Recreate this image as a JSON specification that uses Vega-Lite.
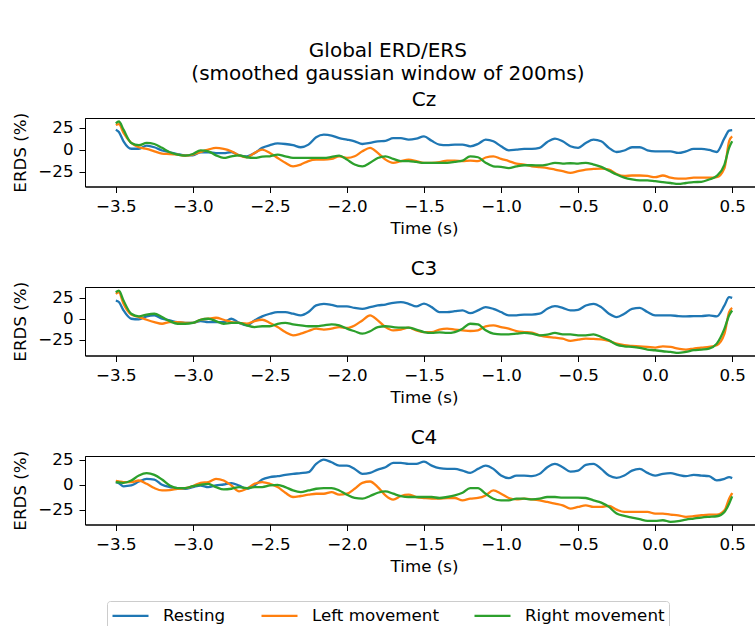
{
"$schema":"https://vega.github.io/schema/vega-lite/v6.json",
"padding":{"left":12,"top":40,"right":5,"bottom":5},
"title":{"text":["Global ERD/ERS","(smoothed gaussian window of 200ms)"],"fontSize":20,"fontWeight":"normal","anchor":"middle","lineHeight":23,"offset":6},
"datasets":{"erds":[
{"p":"Cz","t":-3.5,"Resting":22.7,"Left movement":28,"Right movement":30},
{"p":"Cz","t":-3.48,"Resting":20,"Left movement":29,"Right movement":32},
{"p":"Cz","t":-3.45,"Resting":9.5,"Left movement":19,"Right movement":22.7},
{"p":"Cz","t":-3.4,"Resting":1,"Left movement":7.6,"Right movement":7.6},
{"p":"Cz","t":-3.35,"Resting":1,"Left movement":2.7,"Right movement":5},
{"p":"Cz","t":-3.3,"Resting":4.5,"Left movement":0.8,"Right movement":7.6},
{"p":"Cz","t":-3.25,"Resting":2.7,"Left movement":-1.9,"Right movement":6.4},
{"p":"Cz","t":-3.2,"Resting":-1,"Left movement":-4.5,"Right movement":2},
{"p":"Cz","t":-3.15,"Resting":-3,"Left movement":-5,"Right movement":-3},
{"p":"Cz","t":-3.1,"Resting":-5,"Left movement":-5.7,"Right movement":-5.7},
{"p":"Cz","t":-3.05,"Resting":-6.5,"Left movement":-6.8,"Right movement":-6.8},
{"p":"Cz","t":-3.0,"Resting":-6.5,"Left movement":-5.7,"Right movement":-5},
{"p":"Cz","t":-2.95,"Resting":-3,"Left movement":-2.7,"Right movement":-0.8},
{"p":"Cz","t":-2.9,"Resting":-3,"Left movement":0,"Right movement":-1.9},
{"p":"Cz","t":-2.85,"Resting":-4,"Left movement":2,"Right movement":-6.5},
{"p":"Cz","t":-2.8,"Resting":-4,"Left movement":0.8,"Right movement":-9.5},
{"p":"Cz","t":-2.75,"Resting":-2.7,"Left movement":-1.9,"Right movement":-7.6},
{"p":"Cz","t":-2.7,"Resting":-6.5,"Left movement":-6.5,"Right movement":-6.5},
{"p":"Cz","t":-2.65,"Resting":-7.6,"Left movement":-8.7,"Right movement":-8.7},
{"p":"Cz","t":-2.6,"Resting":-4,"Left movement":-3.8,"Right movement":-9.5},
{"p":"Cz","t":-2.55,"Resting":2,"Left movement":0,"Right movement":-8},
{"p":"Cz","t":-2.5,"Resting":5,"Left movement":-3.8,"Right movement":-7.6},
{"p":"Cz","t":-2.45,"Resting":7,"Left movement":-9.5,"Right movement":-5.7},
{"p":"Cz","t":-2.4,"Resting":6.4,"Left movement":-15,"Right movement":-7.6},
{"p":"Cz","t":-2.35,"Resting":5,"Left movement":-19,"Right movement":-9.5},
{"p":"Cz","t":-2.3,"Resting":2.7,"Left movement":-17,"Right movement":-9.5},
{"p":"Cz","t":-2.25,"Resting":5.7,"Left movement":-13,"Right movement":-9.5},
{"p":"Cz","t":-2.2,"Resting":14,"Left movement":-11.4,"Right movement":-9.5},
{"p":"Cz","t":-2.15,"Resting":17,"Left movement":-11.4,"Right movement":-9.5},
{"p":"Cz","t":-2.1,"Resting":16,"Left movement":-10.6,"Right movement":-8.3},
{"p":"Cz","t":-2.05,"Resting":13,"Left movement":-7.6,"Right movement":-6.8},
{"p":"Cz","t":-2.0,"Resting":11.4,"Left movement":-9.5,"Right movement":-11.4},
{"p":"Cz","t":-1.95,"Resting":9.5,"Left movement":-7.6,"Right movement":-17},
{"p":"Cz","t":-1.9,"Resting":6.4,"Left movement":-1.9,"Right movement":-19},
{"p":"Cz","t":-1.85,"Resting":7.6,"Left movement":2,"Right movement":-15},
{"p":"Cz","t":-1.8,"Resting":9.5,"Left movement":-3.8,"Right movement":-9.5},
{"p":"Cz","t":-1.75,"Resting":10,"Left movement":-11.4,"Right movement":-7.6},
{"p":"Cz","t":-1.7,"Resting":13,"Left movement":-15,"Right movement":-10.6},
{"p":"Cz","t":-1.65,"Resting":13,"Left movement":-13,"Right movement":-13},
{"p":"Cz","t":-1.6,"Resting":11.4,"Left movement":-11.4,"Right movement":-13},
{"p":"Cz","t":-1.55,"Resting":12.5,"Left movement":-13,"Right movement":-14},
{"p":"Cz","t":-1.5,"Resting":15,"Left movement":-15,"Right movement":-15},
{"p":"Cz","t":-1.45,"Resting":10,"Left movement":-15,"Right movement":-15},
{"p":"Cz","t":-1.4,"Resting":5.7,"Left movement":-14.4,"Right movement":-15},
{"p":"Cz","t":-1.35,"Resting":5,"Left movement":-12.5,"Right movement":-15},
{"p":"Cz","t":-1.3,"Resting":5.7,"Left movement":-12.5,"Right movement":-14},
{"p":"Cz","t":-1.25,"Resting":5.7,"Left movement":-13,"Right movement":-12.5},
{"p":"Cz","t":-1.2,"Resting":3.8,"Left movement":-12.5,"Right movement":-7.6},
{"p":"Cz","t":-1.15,"Resting":6.4,"Left movement":-13,"Right movement":-8.7},
{"p":"Cz","t":-1.1,"Resting":11.4,"Left movement":-9,"Right movement":-15},
{"p":"Cz","t":-1.05,"Resting":9.5,"Left movement":-7.6,"Right movement":-19},
{"p":"Cz","t":-1.0,"Resting":3.8,"Left movement":-10.6,"Right movement":-19.7},
{"p":"Cz","t":-0.95,"Resting":-0.8,"Left movement":-13,"Right movement":-21},
{"p":"Cz","t":-0.9,"Resting":0,"Left movement":-16,"Right movement":-19},
{"p":"Cz","t":-0.85,"Resting":0.8,"Left movement":-17,"Right movement":-17.8},
{"p":"Cz","t":-0.8,"Resting":0.8,"Left movement":-19,"Right movement":-17.8},
{"p":"Cz","t":-0.75,"Resting":2,"Left movement":-20,"Right movement":-18},
{"p":"Cz","t":-0.7,"Resting":8.7,"Left movement":-21,"Right movement":-17},
{"p":"Cz","t":-0.65,"Resting":12.5,"Left movement":-22.7,"Right movement":-15},
{"p":"Cz","t":-0.6,"Resting":9.5,"Left movement":-24.6,"Right movement":-16},
{"p":"Cz","t":-0.55,"Resting":3.8,"Left movement":-26.5,"Right movement":-15.5},
{"p":"Cz","t":-0.5,"Resting":2,"Left movement":-24.6,"Right movement":-16},
{"p":"Cz","t":-0.45,"Resting":7.6,"Left movement":-22.7,"Right movement":-15},
{"p":"Cz","t":-0.4,"Resting":11.4,"Left movement":-22,"Right movement":-17},
{"p":"Cz","t":-0.35,"Resting":9.5,"Left movement":-21.6,"Right movement":-19.7},
{"p":"Cz","t":-0.3,"Resting":2,"Left movement":-22.7,"Right movement":-24},
{"p":"Cz","t":-0.25,"Resting":-2.7,"Left movement":-27.7,"Right movement":-28.4},
{"p":"Cz","t":-0.2,"Resting":-1,"Left movement":-30,"Right movement":-32},
{"p":"Cz","t":-0.15,"Resting":2.7,"Left movement":-29.5,"Right movement":-34},
{"p":"Cz","t":-0.1,"Resting":2.7,"Left movement":-29.5,"Right movement":-35},
{"p":"Cz","t":-0.05,"Resting":-0.8,"Left movement":-30,"Right movement":-35},
{"p":"Cz","t":0.0,"Resting":-1.9,"Left movement":-31.4,"Right movement":-36},
{"p":"Cz","t":0.05,"Resting":-1.9,"Left movement":-29.5,"Right movement":-37},
{"p":"Cz","t":0.1,"Resting":-2,"Left movement":-32,"Right movement":-38},
{"p":"Cz","t":0.15,"Resting":-3.8,"Left movement":-33,"Right movement":-39},
{"p":"Cz","t":0.2,"Resting":-2,"Left movement":-33,"Right movement":-38},
{"p":"Cz","t":0.25,"Resting":0.8,"Left movement":-32,"Right movement":-37},
{"p":"Cz","t":0.3,"Resting":0.8,"Left movement":-32,"Right movement":-36.7},
{"p":"Cz","t":0.35,"Resting":-0.4,"Left movement":-32,"Right movement":-34},
{"p":"Cz","t":0.4,"Resting":-2.7,"Left movement":-31.4,"Right movement":-30},
{"p":"Cz","t":0.45,"Resting":13,"Left movement":-21,"Right movement":-17},
{"p":"Cz","t":0.48,"Resting":21.6,"Left movement":9.5,"Right movement":2},
{"p":"Cz","t":0.5,"Resting":22.3,"Left movement":15,"Right movement":9.5},
{"p":"C3","t":-3.5,"Resting":21.8,"Left movement":29.8,"Right movement":31.7},
{"p":"C3","t":-3.48,"Resting":20,"Left movement":31.7,"Right movement":33.7},
{"p":"C3","t":-3.45,"Resting":10,"Left movement":17.9,"Right movement":21.8},
{"p":"C3","t":-3.4,"Resting":0,"Left movement":5,"Right movement":6},
{"p":"C3","t":-3.35,"Resting":-0.8,"Left movement":2,"Right movement":2.8},
{"p":"C3","t":-3.3,"Resting":2.8,"Left movement":-1.2,"Right movement":5},
{"p":"C3","t":-3.25,"Resting":4,"Left movement":-4,"Right movement":6},
{"p":"C3","t":-3.2,"Resting":0,"Left movement":-6,"Right movement":2},
{"p":"C3","t":-3.15,"Resting":-2,"Left movement":-4,"Right movement":-2.8},
{"p":"C3","t":-3.1,"Resting":-4,"Left movement":-4,"Right movement":-6},
{"p":"C3","t":-3.05,"Resting":-5,"Left movement":-5,"Right movement":-6},
{"p":"C3","t":-3.0,"Resting":-5,"Left movement":-5,"Right movement":-5},
{"p":"C3","t":-2.95,"Resting":-2.8,"Left movement":-1.2,"Right movement":-1.2},
{"p":"C3","t":-2.9,"Resting":-4,"Left movement":0,"Right movement":0},
{"p":"C3","t":-2.85,"Resting":-4,"Left movement":1.2,"Right movement":-2.8},
{"p":"C3","t":-2.8,"Resting":-4,"Left movement":-1.2,"Right movement":-6},
{"p":"C3","t":-2.75,"Resting":0,"Left movement":-4,"Right movement":-5},
{"p":"C3","t":-2.7,"Resting":-5,"Left movement":-5,"Right movement":-5},
{"p":"C3","t":-2.65,"Resting":-8,"Left movement":-6,"Right movement":-8},
{"p":"C3","t":-2.6,"Resting":-2,"Left movement":-2.8,"Right movement":-10},
{"p":"C3","t":-2.55,"Resting":2.8,"Left movement":-1.2,"Right movement":-9},
{"p":"C3","t":-2.5,"Resting":6,"Left movement":-5,"Right movement":-9},
{"p":"C3","t":-2.45,"Resting":8,"Left movement":-10,"Right movement":-6},
{"p":"C3","t":-2.4,"Resting":8,"Left movement":-15.9,"Right movement":-5},
{"p":"C3","t":-2.35,"Resting":6,"Left movement":-19.8,"Right movement":-6.7},
{"p":"C3","t":-2.3,"Resting":4,"Left movement":-17.9,"Right movement":-8},
{"p":"C3","t":-2.25,"Resting":8,"Left movement":-14.7,"Right movement":-9},
{"p":"C3","t":-2.2,"Resting":16,"Left movement":-11.9,"Right movement":-9},
{"p":"C3","t":-2.15,"Resting":17.9,"Left movement":-13,"Right movement":-8},
{"p":"C3","t":-2.1,"Resting":16.7,"Left movement":-11.9,"Right movement":-6.7},
{"p":"C3","t":-2.05,"Resting":14.7,"Left movement":-10,"Right movement":-8},
{"p":"C3","t":-2.0,"Resting":14.7,"Left movement":-11,"Right movement":-11.9},
{"p":"C3","t":-1.95,"Resting":13,"Left movement":-8,"Right movement":-15},
{"p":"C3","t":-1.9,"Resting":11.9,"Left movement":-2,"Right movement":-17.9},
{"p":"C3","t":-1.85,"Resting":13.9,"Left movement":4,"Right movement":-15},
{"p":"C3","t":-1.8,"Resting":15.9,"Left movement":-2,"Right movement":-10},
{"p":"C3","t":-1.75,"Resting":17,"Left movement":-10,"Right movement":-9},
{"p":"C3","t":-1.7,"Resting":19,"Left movement":-13.9,"Right movement":-10},
{"p":"C3","t":-1.65,"Resting":19.8,"Left movement":-13,"Right movement":-10.7},
{"p":"C3","t":-1.6,"Resting":17.9,"Left movement":-10.7,"Right movement":-10.7},
{"p":"C3","t":-1.55,"Resting":14.7,"Left movement":-13.9,"Right movement":-13},
{"p":"C3","t":-1.5,"Resting":18,"Left movement":-16,"Right movement":-15.9},
{"p":"C3","t":-1.45,"Resting":13.9,"Left movement":-15.9,"Right movement":-17},
{"p":"C3","t":-1.4,"Resting":8,"Left movement":-13,"Right movement":-16.3},
{"p":"C3","t":-1.35,"Resting":8,"Left movement":-11.9,"Right movement":-17},
{"p":"C3","t":-1.3,"Resting":9,"Left movement":-13,"Right movement":-15.9},
{"p":"C3","t":-1.25,"Resting":10,"Left movement":-13.9,"Right movement":-11.9},
{"p":"C3","t":-1.2,"Resting":6.7,"Left movement":-14.7,"Right movement":-6},
{"p":"C3","t":-1.15,"Resting":10,"Left movement":-13.9,"Right movement":-6.7},
{"p":"C3","t":-1.1,"Resting":13.9,"Left movement":-9,"Right movement":-13.9},
{"p":"C3","t":-1.05,"Resting":11.9,"Left movement":-8,"Right movement":-17.9},
{"p":"C3","t":-1.0,"Resting":8,"Left movement":-10,"Right movement":-18.7},
{"p":"C3","t":-0.95,"Resting":4,"Left movement":-11.9,"Right movement":-18.7},
{"p":"C3","t":-0.9,"Resting":4,"Left movement":-14.7,"Right movement":-17.9},
{"p":"C3","t":-0.85,"Resting":5,"Left movement":-15.9,"Right movement":-17},
{"p":"C3","t":-0.8,"Resting":5,"Left movement":-16.7,"Right movement":-17.9},
{"p":"C3","t":-0.75,"Resting":6,"Left movement":-19.8,"Right movement":-19.8},
{"p":"C3","t":-0.7,"Resting":11.9,"Left movement":-21.8,"Right movement":-19},
{"p":"C3","t":-0.65,"Resting":15,"Left movement":-22.6,"Right movement":-17},
{"p":"C3","t":-0.6,"Resting":13,"Left movement":-23.8,"Right movement":-18.7},
{"p":"C3","t":-0.55,"Resting":10,"Left movement":-26.6,"Right movement":-18.7},
{"p":"C3","t":-0.5,"Resting":10.7,"Left movement":-25,"Right movement":-19.8},
{"p":"C3","t":-0.45,"Resting":15.9,"Left movement":-23.8,"Right movement":-19.8},
{"p":"C3","t":-0.4,"Resting":17.9,"Left movement":-24.2,"Right movement":-18.7},
{"p":"C3","t":-0.35,"Resting":13.9,"Left movement":-24.6,"Right movement":-21.8},
{"p":"C3","t":-0.3,"Resting":6,"Left movement":-26.6,"Right movement":-25.8},
{"p":"C3","t":-0.25,"Resting":2,"Left movement":-29.8,"Right movement":-31},
{"p":"C3","t":-0.2,"Resting":6,"Left movement":-31.7,"Right movement":-33},
{"p":"C3","t":-0.15,"Resting":11.9,"Left movement":-32.5,"Right movement":-33.7},
{"p":"C3","t":-0.1,"Resting":13,"Left movement":-33,"Right movement":-34.9},
{"p":"C3","t":-0.05,"Resting":8,"Left movement":-33.7,"Right movement":-36.9},
{"p":"C3","t":0.0,"Resting":4,"Left movement":-34.5,"Right movement":-37.7},
{"p":"C3","t":0.05,"Resting":4,"Left movement":-33,"Right movement":-38.9},
{"p":"C3","t":0.1,"Resting":4,"Left movement":-33.7,"Right movement":-39.7},
{"p":"C3","t":0.15,"Resting":3.2,"Left movement":-35.7,"Right movement":-40.9},
{"p":"C3","t":0.2,"Resting":2.8,"Left movement":-36.9,"Right movement":-39.7},
{"p":"C3","t":0.25,"Resting":3.2,"Left movement":-35.7,"Right movement":-37.7},
{"p":"C3","t":0.3,"Resting":3.2,"Left movement":-34.5,"Right movement":-36.9},
{"p":"C3","t":0.35,"Resting":4,"Left movement":-33.7,"Right movement":-35.7},
{"p":"C3","t":0.4,"Resting":2.8,"Left movement":-31.7,"Right movement":-29.8},
{"p":"C3","t":0.45,"Resting":15.9,"Left movement":-17.9,"Right movement":-11.9},
{"p":"C3","t":0.48,"Resting":25.8,"Left movement":8,"Right movement":4},
{"p":"C3","t":0.5,"Resting":25,"Left movement":13,"Right movement":9.9},
{"p":"C4","t":-3.5,"Resting":2.7,"Left movement":4,"Right movement":2.7},
{"p":"C4","t":-3.48,"Resting":1.5,"Left movement":3.5,"Right movement":2.5},
{"p":"C4","t":-3.45,"Resting":-1.5,"Left movement":2.7,"Right movement":2},
{"p":"C4","t":-3.4,"Resting":-0.7,"Left movement":2.7,"Right movement":4.3},
{"p":"C4","t":-3.35,"Resting":3.3,"Left movement":4.3,"Right movement":9.3},
{"p":"C4","t":-3.3,"Resting":6,"Left movement":1,"Right movement":11.7},
{"p":"C4","t":-3.25,"Resting":5.3,"Left movement":-3.3,"Right movement":10},
{"p":"C4","t":-3.2,"Resting":0,"Left movement":-5.7,"Right movement":5.3},
{"p":"C4","t":-3.15,"Resting":-2.3,"Left movement":-5.3,"Right movement":-0.7},
{"p":"C4","t":-3.1,"Resting":-3.3,"Left movement":-4,"Right movement":-3.3},
{"p":"C4","t":-3.05,"Resting":-4,"Left movement":-3.3,"Right movement":-3.3},
{"p":"C4","t":-3.0,"Resting":-2.3,"Left movement":-1.3,"Right movement":-1.3},
{"p":"C4","t":-2.95,"Resting":-0.7,"Left movement":2,"Right movement":0},
{"p":"C4","t":-2.9,"Resting":-2.3,"Left movement":2.7,"Right movement":1},
{"p":"C4","t":-2.85,"Resting":-0.7,"Left movement":6,"Right movement":-2.3},
{"p":"C4","t":-2.8,"Resting":0.3,"Left movement":4.3,"Right movement":-4.7},
{"p":"C4","t":-2.75,"Resting":1.7,"Left movement":-0.7,"Right movement":-4},
{"p":"C4","t":-2.7,"Resting":-0.7,"Left movement":-6.7,"Right movement":-2.3},
{"p":"C4","t":-2.65,"Resting":-4,"Left movement":-4,"Right movement":-3.3},
{"p":"C4","t":-2.6,"Resting":-0.7,"Left movement":1,"Right movement":-2.3},
{"p":"C4","t":-2.55,"Resting":5.3,"Left movement":2.7,"Right movement":-2.3},
{"p":"C4","t":-2.5,"Resting":7.7,"Left movement":1,"Right movement":-0.7},
{"p":"C4","t":-2.45,"Resting":8.7,"Left movement":-2.3,"Right movement":0},
{"p":"C4","t":-2.4,"Resting":10,"Left movement":-8,"Right movement":-2.3},
{"p":"C4","t":-2.35,"Resting":11,"Left movement":-12.3,"Right movement":-5.7},
{"p":"C4","t":-2.3,"Resting":11.7,"Left movement":-11.3,"Right movement":-7.3},
{"p":"C4","t":-2.25,"Resting":12.7,"Left movement":-10,"Right movement":-5.7},
{"p":"C4","t":-2.2,"Resting":21,"Left movement":-9,"Right movement":-4},
{"p":"C4","t":-2.15,"Resting":25.3,"Left movement":-9,"Right movement":-3.3},
{"p":"C4","t":-2.1,"Resting":22.7,"Left movement":-7.3,"Right movement":-3.3},
{"p":"C4","t":-2.05,"Resting":19.3,"Left movement":-10,"Right movement":-5.7},
{"p":"C4","t":-2.0,"Resting":19.3,"Left movement":-9,"Right movement":-10},
{"p":"C4","t":-1.95,"Resting":16,"Left movement":-4,"Right movement":-13.3},
{"p":"C4","t":-1.9,"Resting":11,"Left movement":2,"Right movement":-14},
{"p":"C4","t":-1.85,"Resting":12,"Left movement":3.3,"Right movement":-11.3},
{"p":"C4","t":-1.8,"Resting":15.3,"Left movement":-2.3,"Right movement":-8},
{"p":"C4","t":-1.75,"Resting":17.7,"Left movement":-10.7,"Right movement":-6.7},
{"p":"C4","t":-1.7,"Resting":22,"Left movement":-15,"Right movement":-9},
{"p":"C4","t":-1.65,"Resting":22,"Left movement":-11.3,"Right movement":-11.3},
{"p":"C4","t":-1.6,"Resting":21,"Left movement":-10,"Right movement":-12.3},
{"p":"C4","t":-1.55,"Resting":21,"Left movement":-12.3,"Right movement":-12.3},
{"p":"C4","t":-1.5,"Resting":23.3,"Left movement":-13.3,"Right movement":-12.3},
{"p":"C4","t":-1.45,"Resting":19.3,"Left movement":-14,"Right movement":-12.3},
{"p":"C4","t":-1.4,"Resting":16.7,"Left movement":-14,"Right movement":-13.3},
{"p":"C4","t":-1.35,"Resting":16,"Left movement":-13.3,"Right movement":-12.3},
{"p":"C4","t":-1.3,"Resting":16,"Left movement":-13.3,"Right movement":-10.7},
{"p":"C4","t":-1.25,"Resting":14.3,"Left movement":-15.7,"Right movement":-8},
{"p":"C4","t":-1.2,"Resting":12,"Left movement":-14,"Right movement":-3.3},
{"p":"C4","t":-1.15,"Resting":16,"Left movement":-13.3,"Right movement":-3.3},
{"p":"C4","t":-1.1,"Resting":19.3,"Left movement":-10.7,"Right movement":-9},
{"p":"C4","t":-1.05,"Resting":16,"Left movement":-5.7,"Right movement":-14},
{"p":"C4","t":-1.0,"Resting":9.3,"Left movement":-9,"Right movement":-15.7},
{"p":"C4","t":-0.95,"Resting":6.7,"Left movement":-13.3,"Right movement":-15.7},
{"p":"C4","t":-0.9,"Resting":9.3,"Left movement":-14.7,"Right movement":-14},
{"p":"C4","t":-0.85,"Resting":9.3,"Left movement":-14,"Right movement":-14},
{"p":"C4","t":-0.8,"Resting":8.7,"Left movement":-14.7,"Right movement":-14.7},
{"p":"C4","t":-0.75,"Resting":11,"Left movement":-15.7,"Right movement":-14},
{"p":"C4","t":-0.7,"Resting":17.7,"Left movement":-17.3,"Right movement":-12.3},
{"p":"C4","t":-0.65,"Resting":21,"Left movement":-19,"Right movement":-12.3},
{"p":"C4","t":-0.6,"Resting":17.7,"Left movement":-20.7,"Right movement":-13},
{"p":"C4","t":-0.55,"Resting":13.3,"Left movement":-24,"Right movement":-13},
{"p":"C4","t":-0.5,"Resting":14.3,"Left movement":-22.3,"Right movement":-13},
{"p":"C4","t":-0.45,"Resting":20,"Left movement":-20.7,"Right movement":-13.3},
{"p":"C4","t":-0.4,"Resting":21,"Left movement":-22.3,"Right movement":-15.7},
{"p":"C4","t":-0.35,"Resting":16,"Left movement":-22.3,"Right movement":-18},
{"p":"C4","t":-0.3,"Resting":9.3,"Left movement":-21.3,"Right movement":-22.3},
{"p":"C4","t":-0.25,"Resting":7,"Left movement":-25,"Right movement":-29},
{"p":"C4","t":-0.2,"Resting":9.3,"Left movement":-27.3,"Right movement":-31.3},
{"p":"C4","t":-0.15,"Resting":14.3,"Left movement":-27.3,"Right movement":-33},
{"p":"C4","t":-0.1,"Resting":16,"Left movement":-27.3,"Right movement":-34.7},
{"p":"C4","t":-0.05,"Resting":12,"Left movement":-27.3,"Right movement":-36.3},
{"p":"C4","t":0.0,"Resting":9.3,"Left movement":-29,"Right movement":-36.3},
{"p":"C4","t":0.05,"Resting":11,"Left movement":-29,"Right movement":-35.7},
{"p":"C4","t":0.1,"Resting":11.7,"Left movement":-30,"Right movement":-37.3},
{"p":"C4","t":0.15,"Resting":10,"Left movement":-30.7,"Right movement":-36.7},
{"p":"C4","t":0.2,"Resting":8.7,"Left movement":-32.3,"Right movement":-35},
{"p":"C4","t":0.25,"Resting":10,"Left movement":-31.7,"Right movement":-34},
{"p":"C4","t":0.3,"Resting":9.3,"Left movement":-30.7,"Right movement":-33},
{"p":"C4","t":0.35,"Resting":8.7,"Left movement":-30,"Right movement":-32.3},
{"p":"C4","t":0.4,"Resting":4.5,"Left movement":-30,"Right movement":-31.7},
{"p":"C4","t":0.45,"Resting":6,"Left movement":-25.7,"Right movement":-27.3},
{"p":"C4","t":0.48,"Resting":7.7,"Left movement":-14,"Right movement":-19},
{"p":"C4","t":0.5,"Resting":6.7,"Left movement":-8.3,"Right movement":-11.7}
]},
"vconcat":[
{"width":678,"height":68.5,"title":"Cz","data":{"name":"erds"},
"transform":[{"filter":"datum.p === 'Cz'"},{"fold":["Resting","Left movement","Right movement"],"as":["series","v"]}],
"mark":{"type":"line","interpolate":"monotone","strokeWidth":2.3,"clip":true},
"encoding":{
"x":{"field":"t","type":"quantitative","scale":{"domain":[-3.7,0.7],"nice":false,"zero":false},"axis":{"values":[-3.5,-3,-2.5,-2,-1.5,-1,-0.5,0,0.5],"format":".1f","title":"Time (s)"}},
"y":{"field":"v","type":"quantitative","scale":{"domain":[-42,36],"nice":false,"zero":false},"axis":{"values":[-25,0,25],"title":"ERDS (%)"}},
"color":{"field":"series","type":"nominal","sort":["Resting","Left movement","Right movement"],"scale":{"domain":["Resting","Left movement","Right movement"],"range":["#1f77b4","#ff7f0e","#2ca02c"]},"legend":{"title":null,"orient":"none","direction":"horizontal","legendX":22,"legendY":483}}}},
{"width":678,"height":68.5,"title":"C3","data":{"name":"erds"},
"transform":[{"filter":"datum.p === 'C3'"},{"fold":["Resting","Left movement","Right movement"],"as":["series","v"]}],
"mark":{"type":"line","interpolate":"monotone","strokeWidth":2.3,"clip":true},
"encoding":{
"x":{"field":"t","type":"quantitative","scale":{"domain":[-3.7,0.7],"nice":false,"zero":false},"axis":{"values":[-3.5,-3,-2.5,-2,-1.5,-1,-0.5,0,0.5],"format":".1f","title":"Time (s)"}},
"y":{"field":"v","type":"quantitative","scale":{"domain":[-44,38],"nice":false,"zero":false},"axis":{"values":[-25,0,25],"title":"ERDS (%)"}},
"color":{"field":"series","type":"nominal","sort":["Resting","Left movement","Right movement"],"scale":{"domain":["Resting","Left movement","Right movement"],"range":["#1f77b4","#ff7f0e","#2ca02c"]}}}},
{"width":678,"height":68.5,"title":"C4","data":{"name":"erds"},
"transform":[{"filter":"datum.p === 'C4'"},{"fold":["Resting","Left movement","Right movement"],"as":["series","v"]}],
"mark":{"type":"line","interpolate":"monotone","strokeWidth":2.3,"clip":true},
"encoding":{
"x":{"field":"t","type":"quantitative","scale":{"domain":[-3.7,0.7],"nice":false,"zero":false},"axis":{"values":[-3.5,-3,-2.5,-2,-1.5,-1,-0.5,0,0.5],"format":".1f","title":"Time (s)"}},
"y":{"field":"v","type":"quantitative","scale":{"domain":[-40,29],"nice":false,"zero":false},"axis":{"values":[-25,0,25],"title":"ERDS (%)"}},
"color":{"field":"series","type":"nominal","sort":["Resting","Left movement","Right movement"],"scale":{"domain":["Resting","Left movement","Right movement"],"range":["#1f77b4","#ff7f0e","#2ca02c"]}}}}
],
"spacing":20,
"config":{
"font":"DejaVu Sans",
"background":"white",
"view":{"stroke":"black","strokeWidth":1},
"axis":{"grid":false,"domainColor":"black","tickColor":"black","labelColor":"black","titleColor":"black","labelFontSize":16.7,"titleFontSize":16.7,"titleFontWeight":"normal","tickSize":6,"labelPadding":6,"titlePadding":5,"labelFont":"DejaVu Sans","titleFont":"DejaVu Sans"},
"axisY":{"titlePadding":8},
"title":{"fontSize":20,"fontWeight":"normal","color":"black","offset":2,"font":"DejaVu Sans"},
"legend":{"labelFontSize":16.7,"labelColor":"black","labelFont":"DejaVu Sans","symbolType":"M-2,0H2","symbolSize":324,"symbolStrokeWidth":2.3,"symbolOffset":9,"labelOffset":22,"columnPadding":30,"padding":4,"strokeColor":"#cccccc","cornerRadius":3,"fillColor":"white"}
}
}
